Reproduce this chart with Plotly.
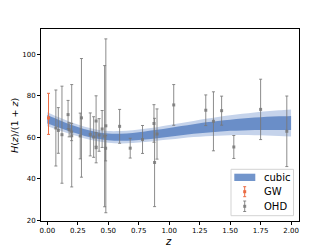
import plotly.graph_objects as go

# ---------------- data ----------------
# OHD (cosmic chronometers): z, H(z), sigma_H
ohd_z = [0.07, 0.09, 0.12, 0.17, 0.179, 0.199, 0.2, 0.27, 0.28, 0.352, 0.3802, 0.4,
         0.4004, 0.4247, 0.4497, 0.47, 0.4783, 0.48, 0.593, 0.68, 0.781, 0.875, 0.88,
         0.9, 1.037, 1.3, 1.363, 1.43, 1.53, 1.75, 1.965]
ohd_H = [69, 69, 68.6, 83, 75, 75, 72.9, 77, 88.8, 83, 83, 95,
         77, 87.1, 92.8, 89, 80.9, 97, 104, 92, 105, 125, 90,
         117, 154, 168, 160, 177, 140, 202, 186.5]
ohd_sig = [19.6, 12, 26.2, 8, 4, 5, 29.6, 14, 36.6, 14, 13.5, 17,
           10.2, 11.2, 12.9, 50, 9, 62, 13, 8, 12, 17, 40,
           23, 20, 17, 33.6, 17, 14, 40, 50.4]

# GW (GW170817-like standard siren)
gw_z = [0.0098]
gw_H = [70.0]
gw_up = [12.0]
gw_dn = [8.0]

# cubic reconstruction bands of H(z)/(1+z)
band_z = [0.0, 0.1, 0.2, 0.3, 0.4, 0.5, 0.6, 0.7, 0.8, 0.9, 1.0,
          1.1, 1.2, 1.3, 1.4, 1.5, 1.6, 1.7, 1.8, 1.9, 2.0]
lo1 = [66.7, 64.6, 62.5, 60.8, 59.4, 58.6, 58.3, 58.5, 59.0, 59.6, 60.3,
       61.0, 61.7, 62.2, 62.7, 63.1, 63.3, 63.5, 63.5, 63.5, 63.5]
hi1 = [70.7, 68.2, 65.9, 64.0, 62.6, 61.8, 61.7, 62.1, 62.8, 63.6, 64.5,
       65.4, 66.3, 67.2, 67.9, 68.5, 69.1, 69.5, 69.9, 70.1, 70.3]
lo2 = [65.3, 63.3, 61.3, 59.6, 58.2, 57.4, 57.0, 57.2, 57.7, 58.3, 58.9,
       59.5, 60.1, 60.5, 60.8, 61.0, 61.1, 61.0, 60.9, 60.6, 60.4]
hi2 = [72.1, 69.5, 67.1, 65.2, 63.8, 63.0, 63.0, 63.4, 64.1, 64.9, 65.9,
       66.9, 67.9, 68.9, 69.8, 70.6, 71.3, 72.0, 72.5, 73.0, 73.4]

x_ticks = [0.0, 0.25, 0.5, 0.75, 1.0, 1.25, 1.5, 1.75, 2.0]
x_ticktext = ["0.00", "0.25", "0.50", "0.75", "1.00", "1.25", "1.50", "1.75", "2.00"]
y_ticks = [20, 40, 60, 80, 100]

# derived quantities H/(1+z)
ohd_y = [h / (1 + z) for h, z in zip(ohd_H, ohd_z)]
ohd_e = [s / (1 + z) for s, z in zip(ohd_sig, ohd_z)]
gw_y = [h / (1 + z) for h, z in zip(gw_H, gw_z)]
gw_eu = [e / (1 + z) for e, z in zip(gw_up, gw_z)]
gw_ed = [e / (1 + z) for e, z in zip(gw_dn, gw_z)]

C_OUT = "#c5d3eb"
C_IN = "#6a8ec8"
C_GW = "#eb6b43"
C_OHD = "rgba(120,120,120,0.85)"
FONT = "DejaVu Sans"

fig = go.Figure()
# outer band
fig.add_trace(go.Scatter(x=band_z, y=lo2, mode="lines", line=dict(width=0, shape="spline"),
                         showlegend=False, hoverinfo="skip"))
fig.add_trace(go.Scatter(x=band_z, y=hi2, mode="lines", line=dict(width=0, shape="spline"),
                         fill="tonexty", fillcolor=C_OUT, showlegend=False, hoverinfo="skip"))
# inner band
fig.add_trace(go.Scatter(x=band_z, y=lo1, mode="lines", line=dict(width=0, shape="spline"),
                         showlegend=False, hoverinfo="skip"))
fig.add_trace(go.Scatter(x=band_z, y=hi1, mode="lines", line=dict(width=0, shape="spline"),
                         fill="tonexty", fillcolor=C_IN, showlegend=False, hoverinfo="skip"))
# OHD
fig.add_trace(go.Scatter(x=ohd_z, y=ohd_y, mode="markers",
                         marker=dict(symbol="square", size=3, color=C_OHD),
                         error_y=dict(type="data", array=ohd_e, visible=True,
                                      color=C_OHD, thickness=1, width=1.5),
                         showlegend=False))
# GW
fig.add_trace(go.Scatter(x=gw_z, y=gw_y, mode="markers",
                         marker=dict(symbol="square", size=3, color=C_GW),
                         error_y=dict(type="data", symmetric=False, array=gw_eu, arrayminus=gw_ed,
                                      visible=True, color=C_GW, thickness=1, width=1.5),
                         showlegend=False))

# plot area pixel geometry
L, R, T, B = 41, 299, 29, 221
def px(xp):
    return (xp - L) / (R - L)
def py(yp):
    return (B - yp) / (B - T)

shapes = []
annotations = []
# legend box
shapes.append(dict(type="rect", xref="paper", yref="paper", x0=px(231), x1=px(293.5),
                   y0=py(215.7), y1=py(169.3), line=dict(color="#d3d3d3", width=1),
                   fillcolor="rgba(255,255,255,0.85)", layer="above"))
# cubic patch
shapes.append(dict(type="rect", xref="paper", yref="paper", x0=px(234.3), x1=px(255.3),
                   y0=py(181), y1=py(173.7), line=dict(width=0), fillcolor="#7295cb", layer="above"))
# errorbar glyphs
for (cy, y_top, y_bot, col) in [(191.7, 186.7, 196.7, C_GW), (206.3, 201.0, 211.5, C_OHD)]:
    cx = 244.7
    shapes.append(dict(type="line", xref="paper", yref="paper", x0=px(cx), x1=px(cx),
                       y0=py(y_top), y1=py(y_bot), line=dict(color=col, width=1), layer="above"))
    for yy in (y_top, y_bot):
        shapes.append(dict(type="line", xref="paper", yref="paper", x0=px(cx - 1.5), x1=px(cx + 1.5),
                           y0=py(yy), y1=py(yy), line=dict(color=col, width=1), layer="above"))
    shapes.append(dict(type="rect", xref="paper", yref="paper", x0=px(cx - 1.5), x1=px(cx + 1.5),
                       y0=py(cy + 1.5), y1=py(cy - 1.5), line=dict(width=0), fillcolor=col, layer="above"))

for label, cy in [("cubic", 177.3), ("GW", 191.7), ("OHD", 206.3)]:
    annotations.append(dict(text=label, xref="paper", yref="paper", x=px(262.3), y=py(cy),
                            xanchor="left", yanchor="middle", showarrow=False,
                            font=dict(family=FONT, size=10, color="black")))

# axis titles
annotations.append(dict(text="<i>z</i>", xref="paper", yref="paper", x=px(168), y=py(241),
                        xanchor="center", yanchor="middle", showarrow=False,
                        font=dict(family=FONT, size=10, color="black")))
annotations.append(dict(text="<i>H</i>(<i>z</i>)/(1 + <i>z</i>)", xref="paper", yref="paper",
                        x=px(15), y=py(126), xanchor="center", yanchor="middle", textangle=-90,
                        showarrow=False, font=dict(family=FONT, size=9.5, color="black")))

axis_common = dict(showline=True, linecolor="black", linewidth=1, mirror=True,
                   ticks="outside", ticklen=3, tickwidth=1, tickcolor="black",
                   showgrid=False, zeroline=False,
                   tickfont=dict(family=FONT, size=7, color="black"))

fig.update_layout(
    width=332, height=249,
    margin=dict(l=L, r=332 - R, t=T, b=249 - B),
    paper_bgcolor="white", plot_bgcolor="white",
    xaxis=dict(range=[-0.052, 2.065], tickvals=x_ticks, ticktext=x_ticktext, **axis_common),
    yaxis=dict(range=[19.66, 112.2], tickvals=y_ticks, **axis_common),
    shapes=shapes, annotations=annotations, showlegend=False,
)

fig.write_html("out.html", config={"displayModeBar": False},
               post_script="document.body.style.margin='0';document.body.style.overflow='hidden';")
